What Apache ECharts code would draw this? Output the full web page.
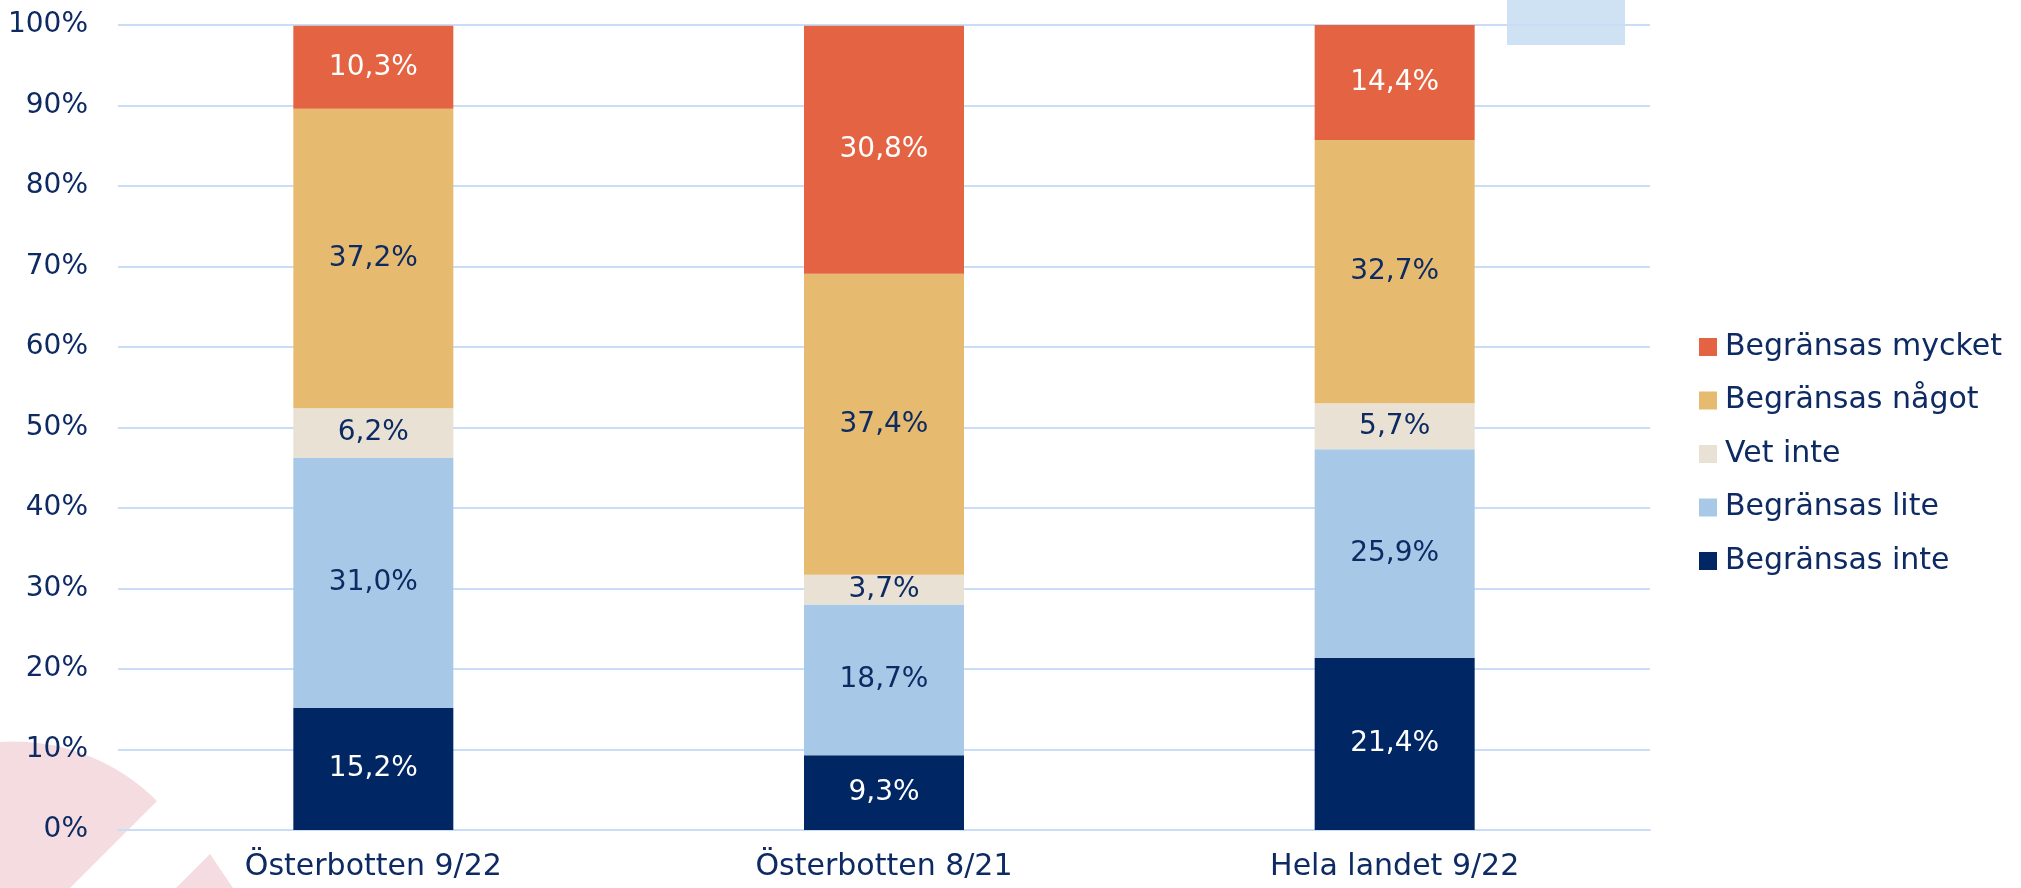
<!DOCTYPE html>
<html>
<head>
<meta charset="utf-8">
<script src="https://cdn.jsdelivr.net/npm/echarts@6/dist/echarts.min.js"></script>
<style>
html,body{margin:0;padding:0;background:#fff;}
#c{width:2021px;height:888px;}
</style>
</head>
<body>
<div id="c"></div>
<script>
const categories = ['Österbotten 9/22', 'Österbotten 8/21', 'Hela landet 9/22'];
const yTicks = ['0%','10%','20%','30%','40%','50%','60%','70%','80%','90%','100%'];
const begransasInte = [15.2, 9.3, 21.4];
const begransasLite = [31.0, 18.7, 25.9];
const vetInte = [6.2, 3.7, 5.7];
const begransasNagot = [37.2, 37.4, 32.7];
const begransasMycket = [10.3, 30.8, 14.4];
const seriesNames = ['Begränsas inte','Begränsas lite','Vet inte','Begränsas något','Begränsas mycket'];
const legendOrder = ['Begränsas mycket','Begränsas något','Vet inte','Begränsas lite','Begränsas inte'];

const navy = '#0D2A63';
const fontFam = '"DejaVu Sans", sans-serif';
const colors = ['#002664', '#A7C8E6', '#E8E1D4', '#E6BA6F', '#E46342'];
const labelColors = ['#ffffff', navy, navy, navy, '#ffffff'];
const dataSets = [begransasInte, begransasLite, vetInte, begransasNagot, begransasMycket];

const chart = echarts.init(document.getElementById('c'));
chart.setOption({
  animation: false,
  backgroundColor: '#ffffff',
  graphic: [
    { type: 'rect', z: -10, shape: { x: 1507, y: 0, width: 118, height: 45 }, style: { fill: '#CFE2F3' } },
    { type: 'sector', z: -10, shape: { cx: 13.5, cy: 944.5, r0: 0, r: 203, startAngle: -Math.PI, endAngle: -Math.PI / 4, clockwise: true }, style: { fill: '#F5DCE0' } },
    { type: 'polygon', z: -10, shape: { points: [[210, 854], [173, 891], [235, 891]] }, style: { fill: '#F5DCE0' } }
  ],
  grid: { left: 118, right: 371, top: 25, bottom: 58, containLabel: false },
  legend: {
    orient: 'vertical',
    left: 1694,
    top: 327,
    itemWidth: 18,
    itemHeight: 18,
    itemGap: 23.5,
    icon: 'rect',
    data: legendOrder,
    textStyle: { color: navy, fontSize: 30, fontFamily: fontFam, lineHeight: 30, padding: [0, 0, 0, 3] }
  },
  xAxis: {
    type: 'category',
    data: categories,
    axisLine: { show: true, lineStyle: { color: '#CADDF7', width: 2 } },
    axisTick: { show: false },
    axisLabel: { color: navy, fontSize: 30, fontFamily: fontFam, margin: 22 }
  },
  yAxis: {
    type: 'value',
    min: 0,
    max: 100,
    interval: 10,
    axisLine: { show: false },
    axisTick: { show: false },
    splitLine: { lineStyle: { color: '#CADDF7', width: 2 } },
    axisLabel: {
      color: navy, fontSize: 28, fontFamily: fontFam, margin: 30,
      formatter: function (v) { return yTicks[Math.round(v / 10)]; }
    }
  },
  series: seriesNames.map(function (name, i) {
    return {
      name: name,
      type: 'bar',
      stack: 'total',
      barWidth: 160,
      itemStyle: { color: colors[i] },
      label: {
        show: true,
        position: 'inside',
        color: labelColors[i],
        fontSize: 28,
        fontFamily: fontFam,
        formatter: function (p) { return p.value.toFixed(1).replace('.', ',') + '%'; }
      },
      data: dataSets[i]
    };
  })
});
</script>
</body>
</html>
